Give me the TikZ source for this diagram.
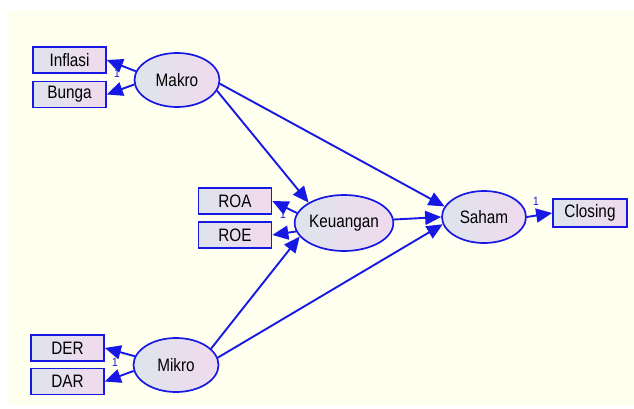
\documentclass[tikz,border=0pt]{standalone}
\usepackage{fontspec}
\setmainfont{Liberation Sans}
\newfontfamily\diagfont[FakeStretch=0.85]{Liberation Sans}
\usetikzlibrary{shapes.geometric,arrows.meta}
\definecolor{lineblue}{RGB}{24,24,228}
\definecolor{bgivory}{RGB}{254,255,238}
\definecolor{fillL}{RGB}{222,228,236}
\definecolor{fillR}{RGB}{240,218,238}
\begin{document}
\begin{tikzpicture}[x=1pt,y=-1pt,
  obs/.style={draw=lineblue, line width=1.7pt, rectangle, minimum width=73pt, minimum height=26pt,
    left color=fillL, right color=fillR, font=\diagfont\fontsize{18}{18}\selectfont, inner sep=0pt},
  lat/.style={draw=lineblue, line width=1.7pt, ellipse, minimum width=85pt, minimum height=54pt,
    left color=fillL, right color=fillR, font=\diagfont\fontsize{18}{18}\selectfont, inner sep=0pt},
  pathline/.style={draw=lineblue, line width=1.9pt, -{Triangle[length=16pt,width=14pt]}},
  one/.style={text=lineblue, font=\diagfont\fontsize{12}{12}\selectfont, inner sep=0pt}]
\useasboundingbox (0,0) rectangle (634,409);
\fill[white] (0,0) rectangle (634,409);
\fill[bgivory] (7,10) rectangle (634,405);

\node[obs] (inflasi) at (69.5,60) {Inflasi};
\node[obs] (bunga) at (69.5,94.5) {Bunga};
\node[lat] (makro) at (177,80) {Makro};

\node[obs] (roa) at (235,201) {ROA};
\node[obs] (roe) at (235,235) {ROE};
\node[lat, minimum width=86pt, minimum height=56pt] (keu) at (344,223) {Keuangan};

\node[lat, minimum width=84pt, minimum height=52pt] (saham) at (484,217) {Saham};
\node[obs, minimum width=74pt, minimum height=28pt] (closing) at (590,213) {Closing};

\node[obs] (der) at (67.5,348) {DER};
\node[obs] (dar) at (67.5,381.5) {DAR};
\node[lat] (mikro) at (176,365) {Mikro};

\draw[pathline] (makro.168) -- (inflasi.east);
\draw[pathline] (makro.186) -- (bunga.east);
\draw[pathline] (keu.168) -- (roa.east);
\draw[pathline] (keu.190) -- (roe.east);
\draw[pathline] (mikro.168) -- (der.east);
\draw[pathline] (mikro.188) -- (dar.east);

\draw[pathline] (makro.-15) -- (keu.150);
\draw[pathline] (makro.-5) -- (saham.165);
\draw[pathline] (keu.4) -- (saham.180);
\draw[pathline] (mikro.25) -- (keu.197);
\draw[pathline] (mikro.10) -- (saham.190);
\draw[pathline] (saham.east) -- (closing.west);

\node[one] (l1) at (117,73) {1};
\node[one] (l2) at (283,214) {1};
\node[one] (l3) at (115,362) {1};
\node[one] (l4) at (536,201) {1};
\end{tikzpicture}
\end{document}
